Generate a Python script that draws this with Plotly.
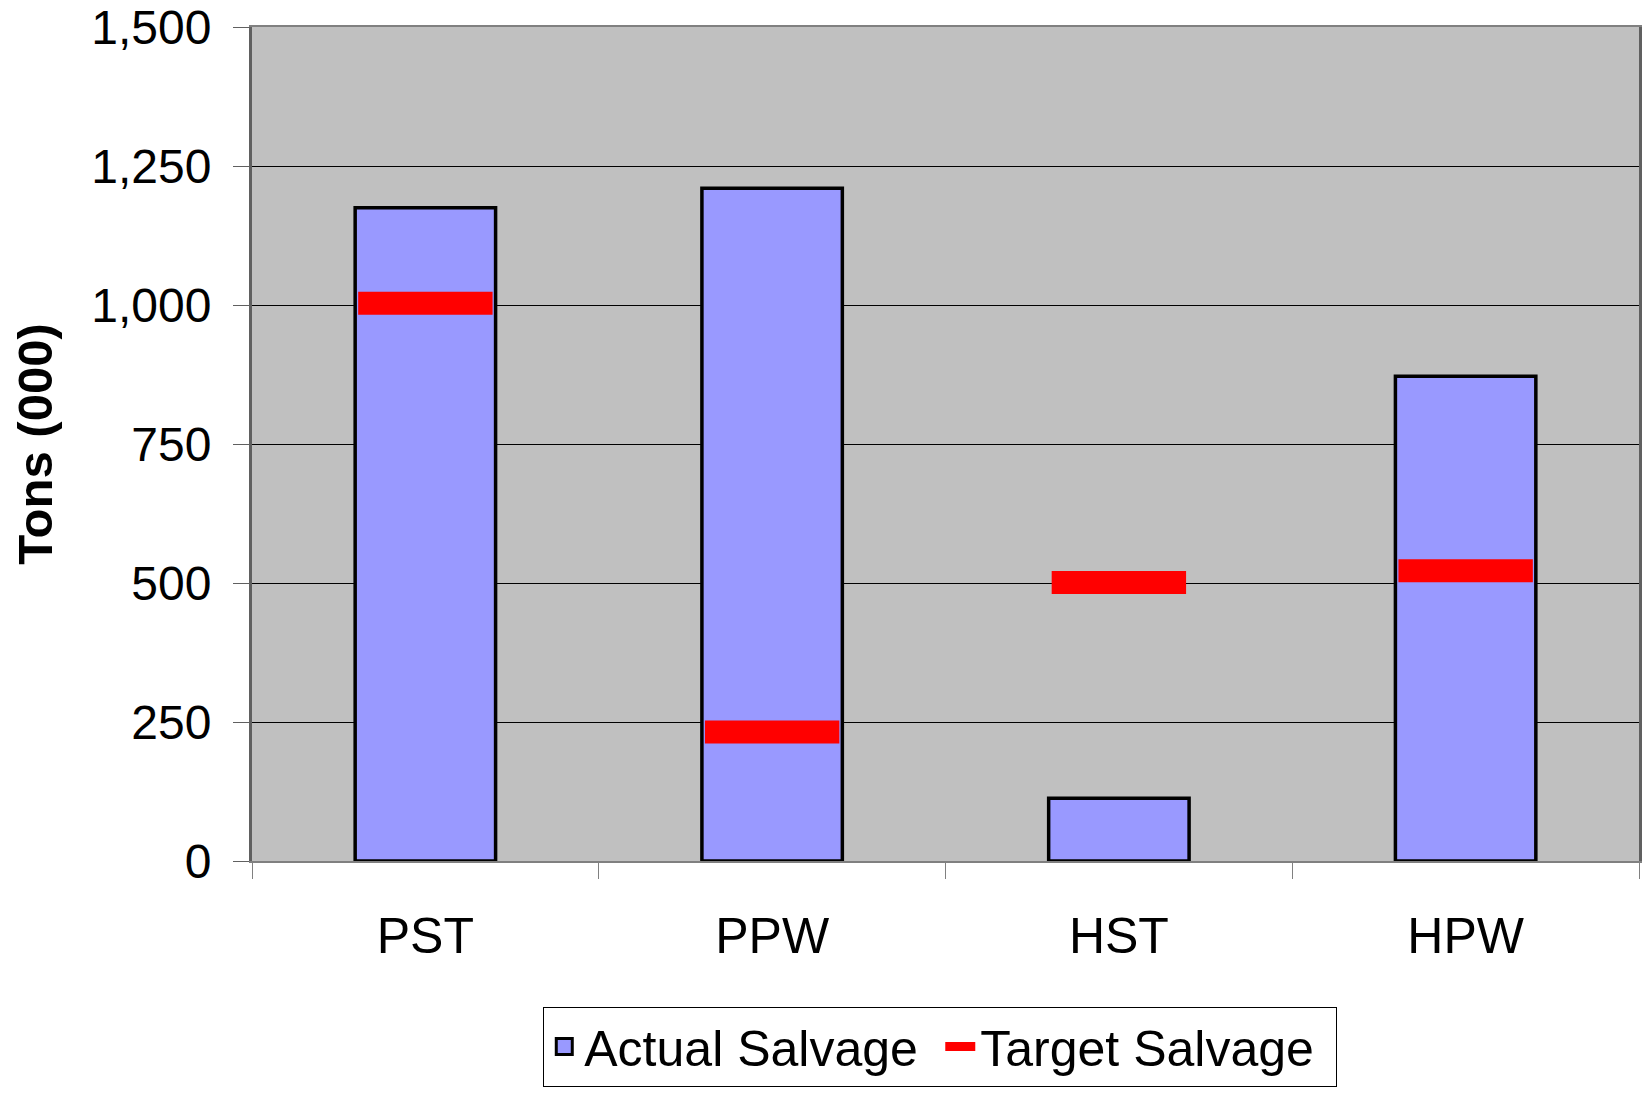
import plotly.graph_objects as go

categories = ["PST", "PPW", "HST", "HPW"]
actual_salvage = [1175, 1210, 113, 872]
target_salvage = [1003, 232, 501, 522]
y_tick_values = [0, 250, 500, 750, 1000, 1250, 1500]

FONT = "Liberation Sans, Arial, sans-serif"
BLUE = "#9999FF"
RED = "#FF0000"

fig = go.Figure()
fig.add_trace(go.Bar(
    x=categories, y=actual_salvage, name="Actual Salvage", showlegend=False,
    width=0.405, legendgroup="a",
    marker=dict(color=BLUE, line=dict(color="#000000", width=3.5)),
))
fig.add_trace(go.Scatter(
    x=categories, y=target_salvage, name="Target Salvage", mode="markers",
    showlegend=False, legendgroup="t",
    marker=dict(symbol="line-ew", size=96, color=RED,
                line=dict(color=RED, width=23)),
))
# legend entries (styled like the reference legend keys)
fig.add_trace(go.Scatter(
    x=[None], y=[None], name="Actual Salvage", mode="markers", legendgroup="a",
    marker=dict(symbol="square", size=16, color=BLUE,
                line=dict(color="#000000", width=3)),
))
fig.add_trace(go.Scatter(
    x=[None], y=[None], name="Target Salvage", mode="lines", legendgroup="t",
    line=dict(color=RED, width=9),
))

fig.update_layout(
    width=1643, height=1095,
    margin=dict(l=252, r=1, t=25, b=234),
    paper_bgcolor="white", plot_bgcolor="#C0C0C0",
    font=dict(family=FONT, size=48, color="black"),
    showlegend=True,
    legend=dict(
        orientation="h", x=0.21, y=-0.1746, xanchor="left", yanchor="top",
        bordercolor="#000000", borderwidth=1, bgcolor="white",
        font=dict(size=50), traceorder="normal",
        entrywidth=351, entrywidthmode="pixels",
    ),
    bargap=0.595,
)
fig.update_xaxes(
    type="category", showline=True, linecolor="#808080", linewidth=2, mirror=True,
    ticks="outside", tickson="boundaries", ticklen=16, tickcolor="#808080", tickwidth=1,
    ticklabelstandoff=30, tickfont=dict(size=50), showgrid=False,
)
fig.update_yaxes(
    range=[0, 1500], tickvals=y_tick_values, tickformat=",",
    showline=True, linecolor="#606060", linewidth=3, mirror=True,
    ticks="outside", ticklen=16, tickcolor="#606060", tickwidth=1,
    ticklabelstandoff=12, tickfont=dict(size=48), ticklabeloverflow="allow",
    showgrid=True, gridcolor="#000000", gridwidth=1, zeroline=False,
    title=dict(text="<b>Tons (000)</b>", font=dict(size=49), standoff=24),
)

fig.write_html(
    "out.html",
    config={"displayModeBar": False},
    post_script="document.body.style.margin='0';document.body.style.overflow='hidden';",
)
